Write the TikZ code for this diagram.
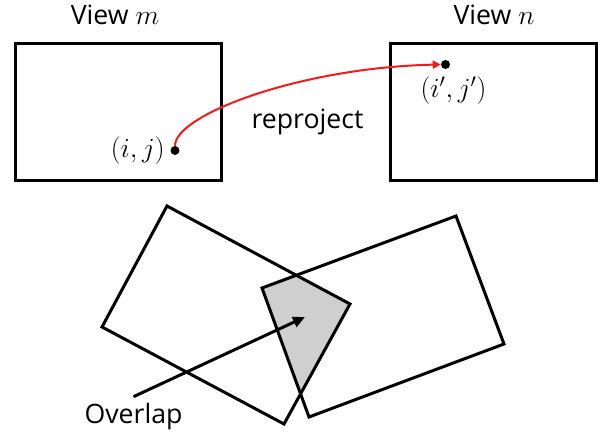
\documentclass[tikz,border=0pt]{standalone}
\usepackage{fontspec}
\setmainfont{Open Sans}
\usepackage{tikz}
\usetikzlibrary{positioning,arrows.meta}
\definecolor{OverlapGray}{HTML}{CFCFCF}
\definecolor{ProjRed}{HTML}{F21B1B}

\begin{document}
\begin{tikzpicture}[x=0.75pt, y=-0.75pt,
  view/.style={draw=black, line width=2.25pt, minimum width=154.5pt, minimum height=103.3pt, inner sep=0pt},
  pix/.style={circle, fill=black, inner sep=0pt, minimum size=6.75pt},
  lbl/.style={font=\fontsize{20}{24}\selectfont},
  quad/.style={draw=black, line width=2.25pt, line join=miter},
  node distance=5mm]
\useasboundingbox (0,0) rectangle (601,432);
% the two views
\node[view] (vm) at (118,112) {};
\node[view] (vn) at (493.5,112) {};
\node[lbl, anchor=base] (tm) at (115,25) {View $m$};
\node[lbl, anchor=base] (tn) at (494,25) {View $n$};
\node[pix] (pij) at (175,150.5) {};
\node[pix] (pij2) at (445.5,64.5) {};
\node[lbl, left=0pt of pij, inner sep=4pt] (lij) {$(i,j)$};
\node[lbl, below=2pt of pij2, xshift=6pt] (lij2) {$(i',j')$};
\node[lbl] (rp) at (307.5,122) {reproject};
\draw[ProjRed, line width=1.5pt, -{Triangle[length=6pt,width=6pt]}]
  (pij.north) .. controls +(0,-31) and +(-140,3) .. (pij2.west);
% overlap of the two footprints
\coordinate (a1) at (167,206);
\coordinate (a2) at (350,304);
\coordinate (a3) at (284,424);
\coordinate (a4) at (102,327);
\coordinate (b1) at (262,288);
\coordinate (b2) at (456,216);
\coordinate (b3) at (504,344);
\coordinate (b4) at (309,417);
\begin{scope}
  \clip (a1) -- (a2) -- (a3) -- (a4) -- cycle;
  \fill[OverlapGray] (b1) -- (b2) -- (b3) -- (b4) -- cycle;
\end{scope}
\draw[quad] (a1) -- (a2) -- (a3) -- (a4) -- cycle;
\draw[quad] (b1) -- (b2) -- (b3) -- (b4) -- cycle;
\coordinate (otip) at (305,317);
\node[lbl, anchor=base] (ovl) at (133.5,423) {Overlap};
\draw[line width=2.25pt, -{Triangle[length=9pt,width=8pt]}] ([yshift=1pt]ovl.north) -- (otip);
\end{tikzpicture}
\end{document}
